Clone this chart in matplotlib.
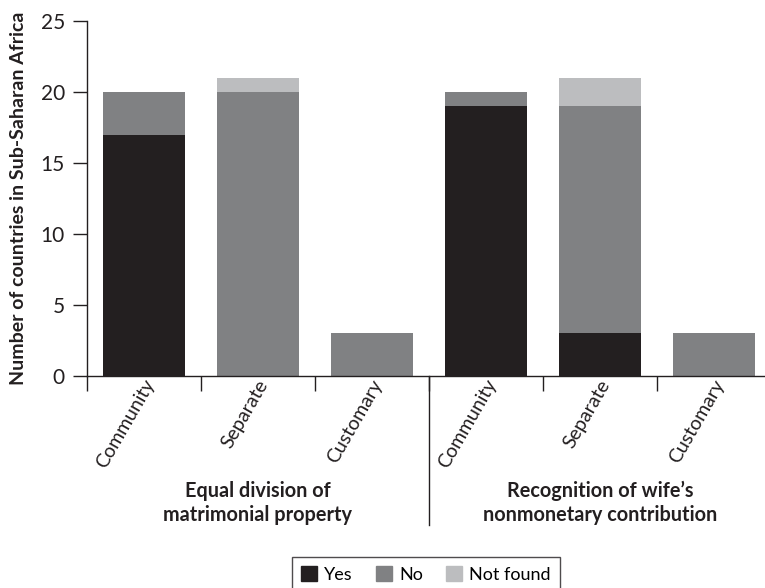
import matplotlib.pyplot as plt
from matplotlib.patches import Patch
import numpy as np

plt.rcParams['font.family'] = ['Lato', 'DejaVu Sans']

categories = ['Community', 'Separate', 'Customary', 'Community', 'Separate', 'Customary']
groups = ['Equal division of\nmatrimonial property',
          'Recognition of wife\u2019s\nnonmonetary contribution']
yes = [17, 0, 0, 19, 3, 0]
no = [3, 20, 3, 1, 16, 3]
not_found = [0, 1, 0, 0, 2, 0]

c_yes = '#231f20'
c_no = '#808183'
c_nf = '#bcbdbf'
ink = '#231f20'

x = np.arange(len(categories))
yes = np.array(yes)
no = np.array(no)
not_found = np.array(not_found)

fig = plt.figure(figsize=(7.65, 5.88), dpi=100)
ax = fig.add_axes([0.1137, 0.3605, 0.8863, 0.6035])

ax.bar(x, yes, width=0.72, color=c_yes)
ax.bar(x, no, width=0.72, bottom=yes, color=c_no)
ax.bar(x, not_found, width=0.72, bottom=yes + no, color=c_nf)

ax.set_xlim(-0.5, 5.45)
ax.set_ylim(0, 25)
ax.set_yticks([0, 5, 10, 15, 20, 25])
ax.tick_params(axis='y', direction='out', length=10, width=1, colors=ink,
               labelsize=15, pad=6)

# ticks at the boundaries, labels at the bar centres
ax.set_xticks([-0.5, 0.5, 1.5, 2.5, 3.5, 4.5])
ax.set_xticklabels([])
ax.tick_params(axis='x', direction='out', length=11, width=1, colors=ink)
for i, lab in enumerate(categories):
    ax.annotate(lab, xy=(i, 0), xycoords=('data', 'axes fraction'),
                xytext=(4.5, -3.5), textcoords='offset points',
                rotation=60, ha='right', va='center', rotation_mode='anchor',
                fontsize=14, color=ink)

for s in ['top', 'right']:
    ax.spines[s].set_visible(False)
for s in ['left', 'bottom']:
    ax.spines[s].set_color(ink)
    ax.spines[s].set_linewidth(1)

# divider between the two groups
ax.plot([2.5, 2.5], [0, -0.42], transform=ax.get_xaxis_transform(),
        color=ink, lw=1, clip_on=False)

for gx, g in zip([1, 4], groups):
    ax.text(gx, -0.296, g, transform=ax.get_xaxis_transform(),
            ha='center', va='top', fontsize=14.3, fontweight='bold',
            color=ink, linespacing=1.25)

ax.set_ylabel('Number of countries in Sub-Saharan Africa', fontsize=14,
              fontweight='bold', color=ink, labelpad=10)

handles = [Patch(color=c_yes, label='Yes'), Patch(color=c_no, label='No'),
           Patch(color=c_nf, label='Not found')]
leg = fig.legend(handles=handles, ncol=3, loc='upper center',
                 bbox_to_anchor=(426 / 765, 1 - 557 / 588),
                 frameon=True, fancybox=False, fontsize=13, handlelength=0.89,
                 handleheight=0.89, handletextpad=0.39, columnspacing=1.28,
                 borderpad=0.5, edgecolor=ink, borderaxespad=0)
leg.get_frame().set_linewidth(1)

fig.savefig('out.png', dpi=100)
